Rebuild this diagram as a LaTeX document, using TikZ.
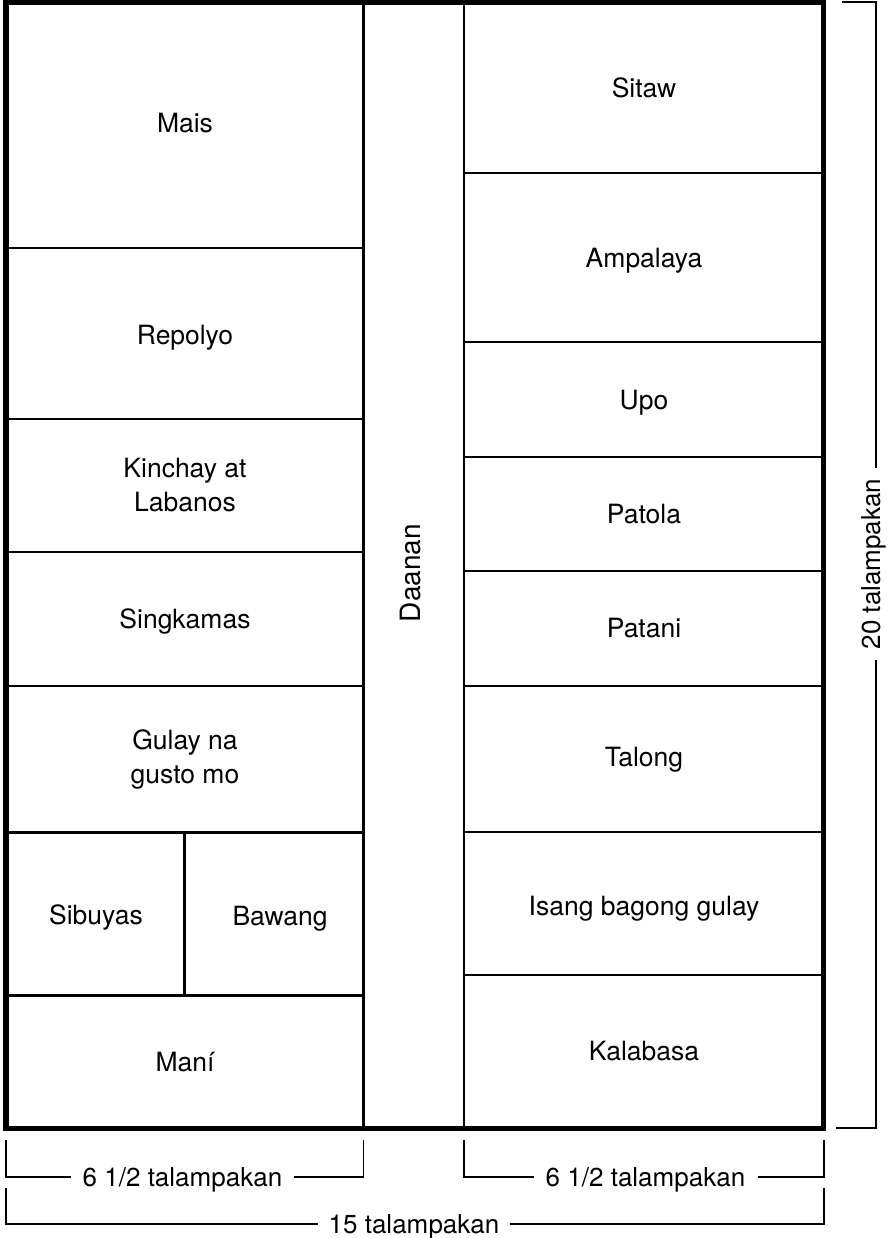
\documentclass[tikz,border=0pt]{standalone}
\usepackage{fontspec}
\setmainfont{TeX Gyre Heros}
\begin{document}
\begin{tikzpicture}[x=1pt,y=-1pt,
  lbl/.style={font=\fontsize{26.5}{34}\selectfont, inner sep=0pt, text depth=0pt, align=center},
  dimtxt/.style={font=\fontsize{26}{33}\selectfont, inner ysep=0pt, text depth=0pt},
  outer/.style={line width=5.5pt},
  inner/.style={line width=2.5pt},
  dim/.style={line width=1.4pt}]
\useasboundingbox (0,0) rectangle (888,1238);
% interior lines
\draw[inner] (363.7,2.5) -- (363.7,1128.5);
\draw[inner] (464,2.5) -- (464,1128.5);
\foreach \yy in {248,419,552,686,832.5,995.5}
  \draw[inner] (5.8,\yy) -- (363.7,\yy);
\draw[inner] (184.5,832.5) -- (184.5,995.5);
\foreach \yy in {173,342,457,571,686,832,975}
  \draw[inner] (464,\yy) -- (823.5,\yy);
% outer border
\draw[outer] (5.8,2.5) rectangle (823.5,1128.5);
% left column labels
\node[lbl] (mais) at (185,123) {Mais};
\node[lbl] (repolyo) at (185,335) {Repolyo};
\node[lbl] (kinchay) at (185,485) {Kinchay at\\Labanos};
\node[lbl] (singkamas) at (185,619) {Singkamas};
\node[lbl] (gulay) at (185,757) {Gulay na\\gusto mo};
\node[lbl] (sibuyas) at (96,915) {Sibuyas};
\node[lbl] (bawang) at (280,916) {Bawang};
\node[lbl] (mani) at (185,1062) {Maní};
% path
\node[lbl, font=\fontsize{28}{34}\selectfont, rotate=90] (daanan) at (410,573) {Daanan};
% right column labels
\node[lbl] (sitaw) at (644,88) {Sitaw};
\node[lbl] (ampalaya) at (644,258) {Ampalaya};
\node[lbl] (upo) at (644,400) {Upo};
\node[lbl] (patola) at (644,514) {Patola};
\node[lbl] (patani) at (644,628) {Patani};
\node[lbl] (talong) at (644,757) {Talong};
\node[lbl] (isang) at (644,906) {Isang bagong gulay};
\node[lbl] (kalabasa) at (644,1051) {Kalabasa};
% dimension: left 6 1/2
\coordinate (la) at (6,1140);
\coordinate (lb) at (363.5,1140);
\node[dimtxt, inner xsep=12pt] (tl) at (182.5,1177) {6 1/2 talampakan};
\draw[dim] (la) |- (tl.west);
\draw[dim] (tl.east) -| (lb);
% dimension: right 6 1/2
\coordinate (ra) at (464,1140);
\coordinate (rb) at (824,1140);
\node[dimtxt, inner xsep=12pt] (tr) at (645.5,1177) {6 1/2 talampakan};
\draw[dim] (ra) |- (tr.west);
\draw[dim] (tr.east) -| (rb);
% dimension: 15
\coordinate (fa) at (6,1188);
\coordinate (fb) at (824,1188);
\node[dimtxt, inner xsep=10pt] (tf) at (414,1224) {15 talampakan};
\draw[dim] (fa) |- (tf.west);
\draw[dim] (tf.east) -| (fb);
% dimension: 20 vertical
\coordinate (va) at (842,2);
\coordinate (vb) at (836,1128);
\node[dimtxt, inner xsep=10pt, rotate=90] (tv) at (871.5,564) {20 talampakan};
\draw[dim] (va) -| ([xshift=4.5pt]tv.east);
\draw[dim] ([xshift=4.5pt]tv.west) |- (vb);
\end{tikzpicture}
\end{document}
